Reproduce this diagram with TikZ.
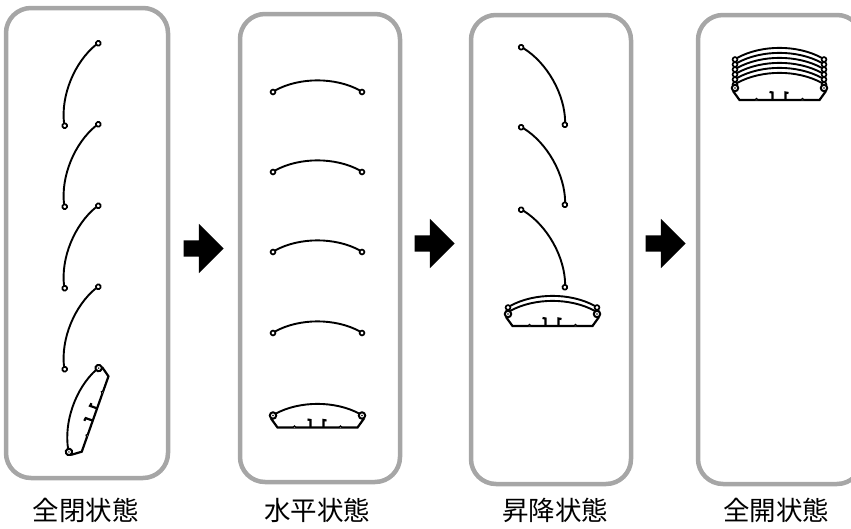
\documentclass[tikz,border=0pt]{standalone}
\usepackage{fontspec}
\newfontfamily\cjk{Noto Sans CJK JP}
\usetikzlibrary{shapes.arrows}
\definecolor{panelgray}{HTML}{A6A6A6}
\tikzset{
	panel/.style={draw=panelgray, line width=4.5pt, rounded corners=25pt},
	caption/.style={font=\cjk\fontsize{26.5}{30}\selectfont, inner sep=0pt},
	move/.style={single arrow, fill=black, minimum height=40pt, inner xsep=0pt, inner ysep=8pt,
		single arrow head extend=16.5pt, single arrow head indent=0pt},
	slat/.pic={
		\begin{scope}[y=1pt]
		\draw [line width=1.9pt] (-42.5,1.5) .. controls (-18,15) and (18,15) .. (42.5,1.5);
		\draw [line width=1.7pt, fill=white] (-44.5,0) circle (2.4);
		\draw [line width=1.7pt, fill=white] (44.5,0) circle (2.4);
		\end{scope}
	},
	base/.pic={
		\begin{scope}[y=1pt]
		% end pivots
		\draw [line width=2pt, fill=white] (-44.5,0) circle (3.2);
		\draw [line width=2pt, fill=white] (44.5,0) circle (3.2);
		\fill (-44.5,0) circle (0.8);
		\fill (44.5,0) circle (0.8);
		% body
		\draw [line width=2.2pt] (-46.5,-3) -- (-40,-12) -- (40,-12) -- (46.5,-3);
		% fins
		\draw [line width=1.2pt, fill=white] (-24.5,-12) arc (180:0:1.5);
		\draw [line width=1.2pt, fill=white] (21.5,-12) arc (180:0:1.5);
		\draw [line width=2.2pt] (-7,-12) -- (-7,-4.5) -- (-10,-4);
		\draw [line width=2.2pt] (6,-12) -- (6,-4.5) -- (9,-5);
		\end{scope}
	},
}
\begin{document}
\begin{tikzpicture}[x=1pt, y=-1pt]
	\useasboundingbox (0,0) rectangle (851,528);
	% panels
	\draw [panel] (6,8) rectangle (168,478);
	\draw [panel] (240,14) rectangle (400,482);
	\draw [panel] (471,15) rectangle (631,484);
	\draw [panel] (698,15) rectangle (862,484);
	% closed stack
	\foreach \y in {84.5,165.5,247,328}
		\pic [rotate=67.8] at (81.5,\y) {slat};
	\pic [rotate=70.5] at (83.8,410) {slat};
	\pic [rotate=70.5] at (83.8,410) {base};
	% level stack
	\foreach \y in {92,172,252,333}
		\pic at (317.5,\y) {slat};
	\pic at (317.5,415.5) {slat};
	\pic at (317.5,415.5) {base};
	% lifting stack
	\foreach \y in {86,166,248.5}
		\pic [rotate=-60.6] at (543,\y) {slat};
	\pic at (552.5,307.5) {slat};
	\pic at (552.5,312.5) {slat};
	\pic at (552.5,314) {base};
	% open stack
	\foreach \y in {59.5,64.5,69.5,74.5,79.5,84.5}
		\pic at (779.5,\y) {slat};
	\pic at (779.5,88) {base};
	% arrows
	\node [move] (arrowa) at (199.5,248.5) {};
	\node [move] (arrowb) at (430.5,243.5) {};
	\node [move] (arrowc) at (661.5,243.5) {};
	% captions
	\node [caption] (labela) at (85.5,510) {全閉状態};
	\node [caption] (labelb) at (317,510) {水平状態};
	\node [caption] (labelc) at (555,510) {昇降状態};
	\node [caption] (labeld) at (776,510) {全開状態};
\end{tikzpicture}
\end{document}
